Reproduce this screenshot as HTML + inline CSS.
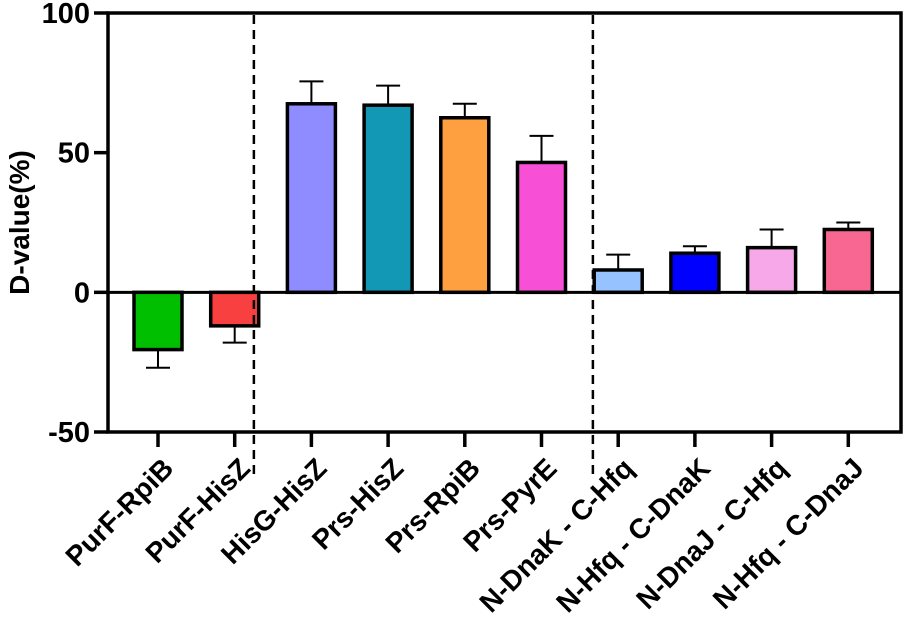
<!DOCTYPE html>
<html><head><meta charset="utf-8"><style>
body{margin:0;background:#fff}
svg{display:block}
text{font-family:"Liberation Sans",Arial,sans-serif;font-weight:bold;fill:#000}
</style></head><body>
<svg id="chart" width="905" height="628" viewBox="0 0 905 628" xmlns="http://www.w3.org/2000/svg"></svg>
<script>
const categories=["PurF-RpiB","PurF-HisZ","HisG-HisZ","Prs-HisZ","Prs-RpiB","Prs-PyrE","N-DnaK - C-Hfq","N-Hfq - C-DnaK","N-DnaJ - C-Hfq","N-Hfq - C-DnaJ"];
const values=[-20.5,-12,67.5,67,62.5,46.5,8,14,16,22.5];
const errors=[6.5,6,8,7,5,9.5,5.5,2.5,6.5,2.5];
const colors=["#00bf00","#f94040","#8f8cff","#1298b4","#ffa040","#f74fd6","#96c2ff","#0000ff","#f6a8e8","#f86792"];
const yTicks=[100,50,0,-50];
const dividers=[1.25,5.67];

const svg=document.getElementById('chart');
const NS="http://www.w3.org/2000/svg";
const L=108,R=901,T=13,B=432,yMin=-50,yMax=100;
const y=v=>B-(v-yMin)/(yMax-yMin)*(B-T);
const x0=158,step=76.7;
const x=i=>x0+i*step;
function mk(tag,attrs){const e=document.createElementNS(NS,tag);for(const k in attrs)e.setAttribute(k,attrs[k]);svg.appendChild(e);return e;}

let e=mk('rect',{x:L,y:T,width:R-L,height:B-T,fill:'none',stroke:'#000','stroke-width':3.5});



yTicks.forEach(t=>{
  let l=mk('line',{x1:L-14,x2:L,y1:y(t),y2:y(t),stroke:'#000','stroke-width':3.5});
  
  
  let tx=mk('text',{x:L-18,y:y(t)+10,'text-anchor':'end','font-size':29});
  tx.textContent=t;
  
  
});
let yt=mk('text',{x:0,y:0,'text-anchor':'middle','font-size':28,transform:`translate(29,${y(25)}) rotate(-90)`});
yt.textContent='D-value(%)';



const bw=48;
categories.forEach((c,i)=>{
  const v=values[i],cx=x(i);
  const top=Math.min(y(v),y(0)),h=Math.abs(y(v)-y(0));
  const tipV=v>=0?v+errors[i]:v-errors[i];
  let el=mk('line',{x1:cx,x2:cx,y1:y(v),y2:y(tipV),stroke:'#000','stroke-width':2});
  
  
  let cap=mk('line',{x1:cx-12,x2:cx+12,y1:y(tipV),y2:y(tipV),stroke:'#000','stroke-width':2});
  
  
  let r=mk('rect',{x:cx-bw/2,y:top,width:bw,height:h,fill:colors[i],stroke:'#000','stroke-width':3.5});
  
  
  let tk=mk('line',{x1:cx,x2:cx,y1:B,y2:B+15,stroke:'#000','stroke-width':3.5});
  
  
  let lb=mk('text',{x:0,y:0,'text-anchor':'end','font-size':28,transform:`translate(${cx+17},${B+38}) rotate(-45)`});
  lb.textContent=c;
  
  
});
let z=mk('line',{x1:L,x2:R,y1:y(0),y2:y(0),stroke:'#000','stroke-width':3});


dividers.forEach(d=>{
  const dx=x(0)+d*step;
  let dl=mk('line',{x1:dx,x2:dx,y1:T+2,y2:B+46,stroke:'#000','stroke-width':2.5,'stroke-dasharray':'9,6'});
  
  
});
</script>
</body></html>
